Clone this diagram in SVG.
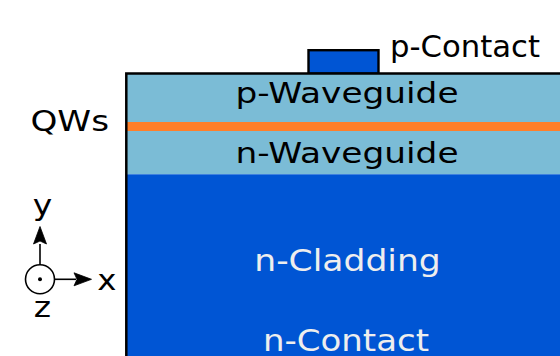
<svg xmlns="http://www.w3.org/2000/svg" width="560" height="356" viewBox="0 0 560 356">
  <style>
    .lbl { font-family: "DejaVu Sans", "Liberation Sans", sans-serif; fill: #000; }
    .lbl-light { font-family: "DejaVu Sans", "Liberation Sans", sans-serif; fill: #eeeeee; }
    .outline { fill: none; stroke: #000; stroke-width: 2.5; }
    .axis { fill: none; stroke: #000; stroke-width: 1.6; }
    .head { fill: #000; stroke: #000; stroke-width: 0.8; stroke-linejoin: round; }
  </style>
  <defs>
    <!-- arrowhead pointing along +x, tip at the origin -->
    <path id="arrowhead" class="head" d="M-17.5,-6.5 L0,0 L-17.5,6.5 L-14.5,0 Z"/>
  </defs>
  <rect x="0" y="0" width="560" height="356" fill="#fff"/>

  <!-- p-side metal contact on top of the stack -->
  <g id="p-contact">
    <rect x="308.5" y="50.2" width="70" height="23.5" fill="#0055d4" stroke="#000" stroke-width="2.4"/>
    <text class="lbl" x="390" y="57.3" font-size="29.5" textLength="150" lengthAdjust="spacingAndGlyphs">p-Contact</text>
  </g>

  <!-- epitaxial layers -->
  <g id="p-waveguide">
    <rect x="126.3" y="73.5" width="440" height="48.6" fill="#7bbcd6"/>
    <text class="lbl" x="347" y="103.3" font-size="29" text-anchor="middle" textLength="223" lengthAdjust="spacingAndGlyphs">p-Waveguide</text>
  </g>

  <g id="qws">
    <rect x="126.3" y="122" width="440" height="9" fill="#ff7f2a"/>
    <text class="lbl" x="30.4" y="130.5" font-size="29" textLength="78.6" lengthAdjust="spacingAndGlyphs">QWs</text>
  </g>

  <g id="n-waveguide">
    <rect x="126.3" y="131" width="440" height="43.3" fill="#7bbcd6"/>
    <text class="lbl" x="347" y="163.3" font-size="29" text-anchor="middle" textLength="223" lengthAdjust="spacingAndGlyphs">n-Waveguide</text>
  </g>

  <g id="n-cladding">
    <rect x="126.3" y="174.3" width="440" height="190" fill="#0055d4"/>
    <text class="lbl-light" x="347.5" y="270.7" font-size="30.5" text-anchor="middle" textLength="186.5" lengthAdjust="spacingAndGlyphs">n-Cladding</text>
    <text class="lbl-light" x="346" y="350.7" font-size="30" text-anchor="middle" textLength="166" lengthAdjust="spacingAndGlyphs">n-Contact</text>
  </g>

  <!-- outline of the chip cross-section -->
  <path class="outline" d="M566,73.5 H126.3 V364"/>

  <!-- coordinate axes (z points out of the page) -->
  <g id="axes">
    <circle class="axis" cx="40" cy="279.3" r="14.5"/>
    <circle cx="40" cy="279.3" r="2" fill="#000"/>
    <line class="axis" x1="40" y1="264.8" x2="40" y2="244"/>
    <use href="#arrowhead" transform="translate(40,226.5) rotate(-90)"/>
    <line class="axis" x1="54.5" y1="279.3" x2="76" y2="279.3"/>
    <use href="#arrowhead" transform="translate(91.5,279.3)"/>
    <text class="lbl" x="42.5" y="215.2" font-size="27.7" text-anchor="middle" textLength="19.5" lengthAdjust="spacingAndGlyphs">y</text>
    <text class="lbl" x="106.8" y="290" font-size="27.5" text-anchor="middle" textLength="19.2" lengthAdjust="spacingAndGlyphs">x</text>
    <text class="lbl" x="42.5" y="316.7" font-size="27.5" text-anchor="middle" textLength="17.3" lengthAdjust="spacingAndGlyphs">z</text>
  </g>
</svg>
